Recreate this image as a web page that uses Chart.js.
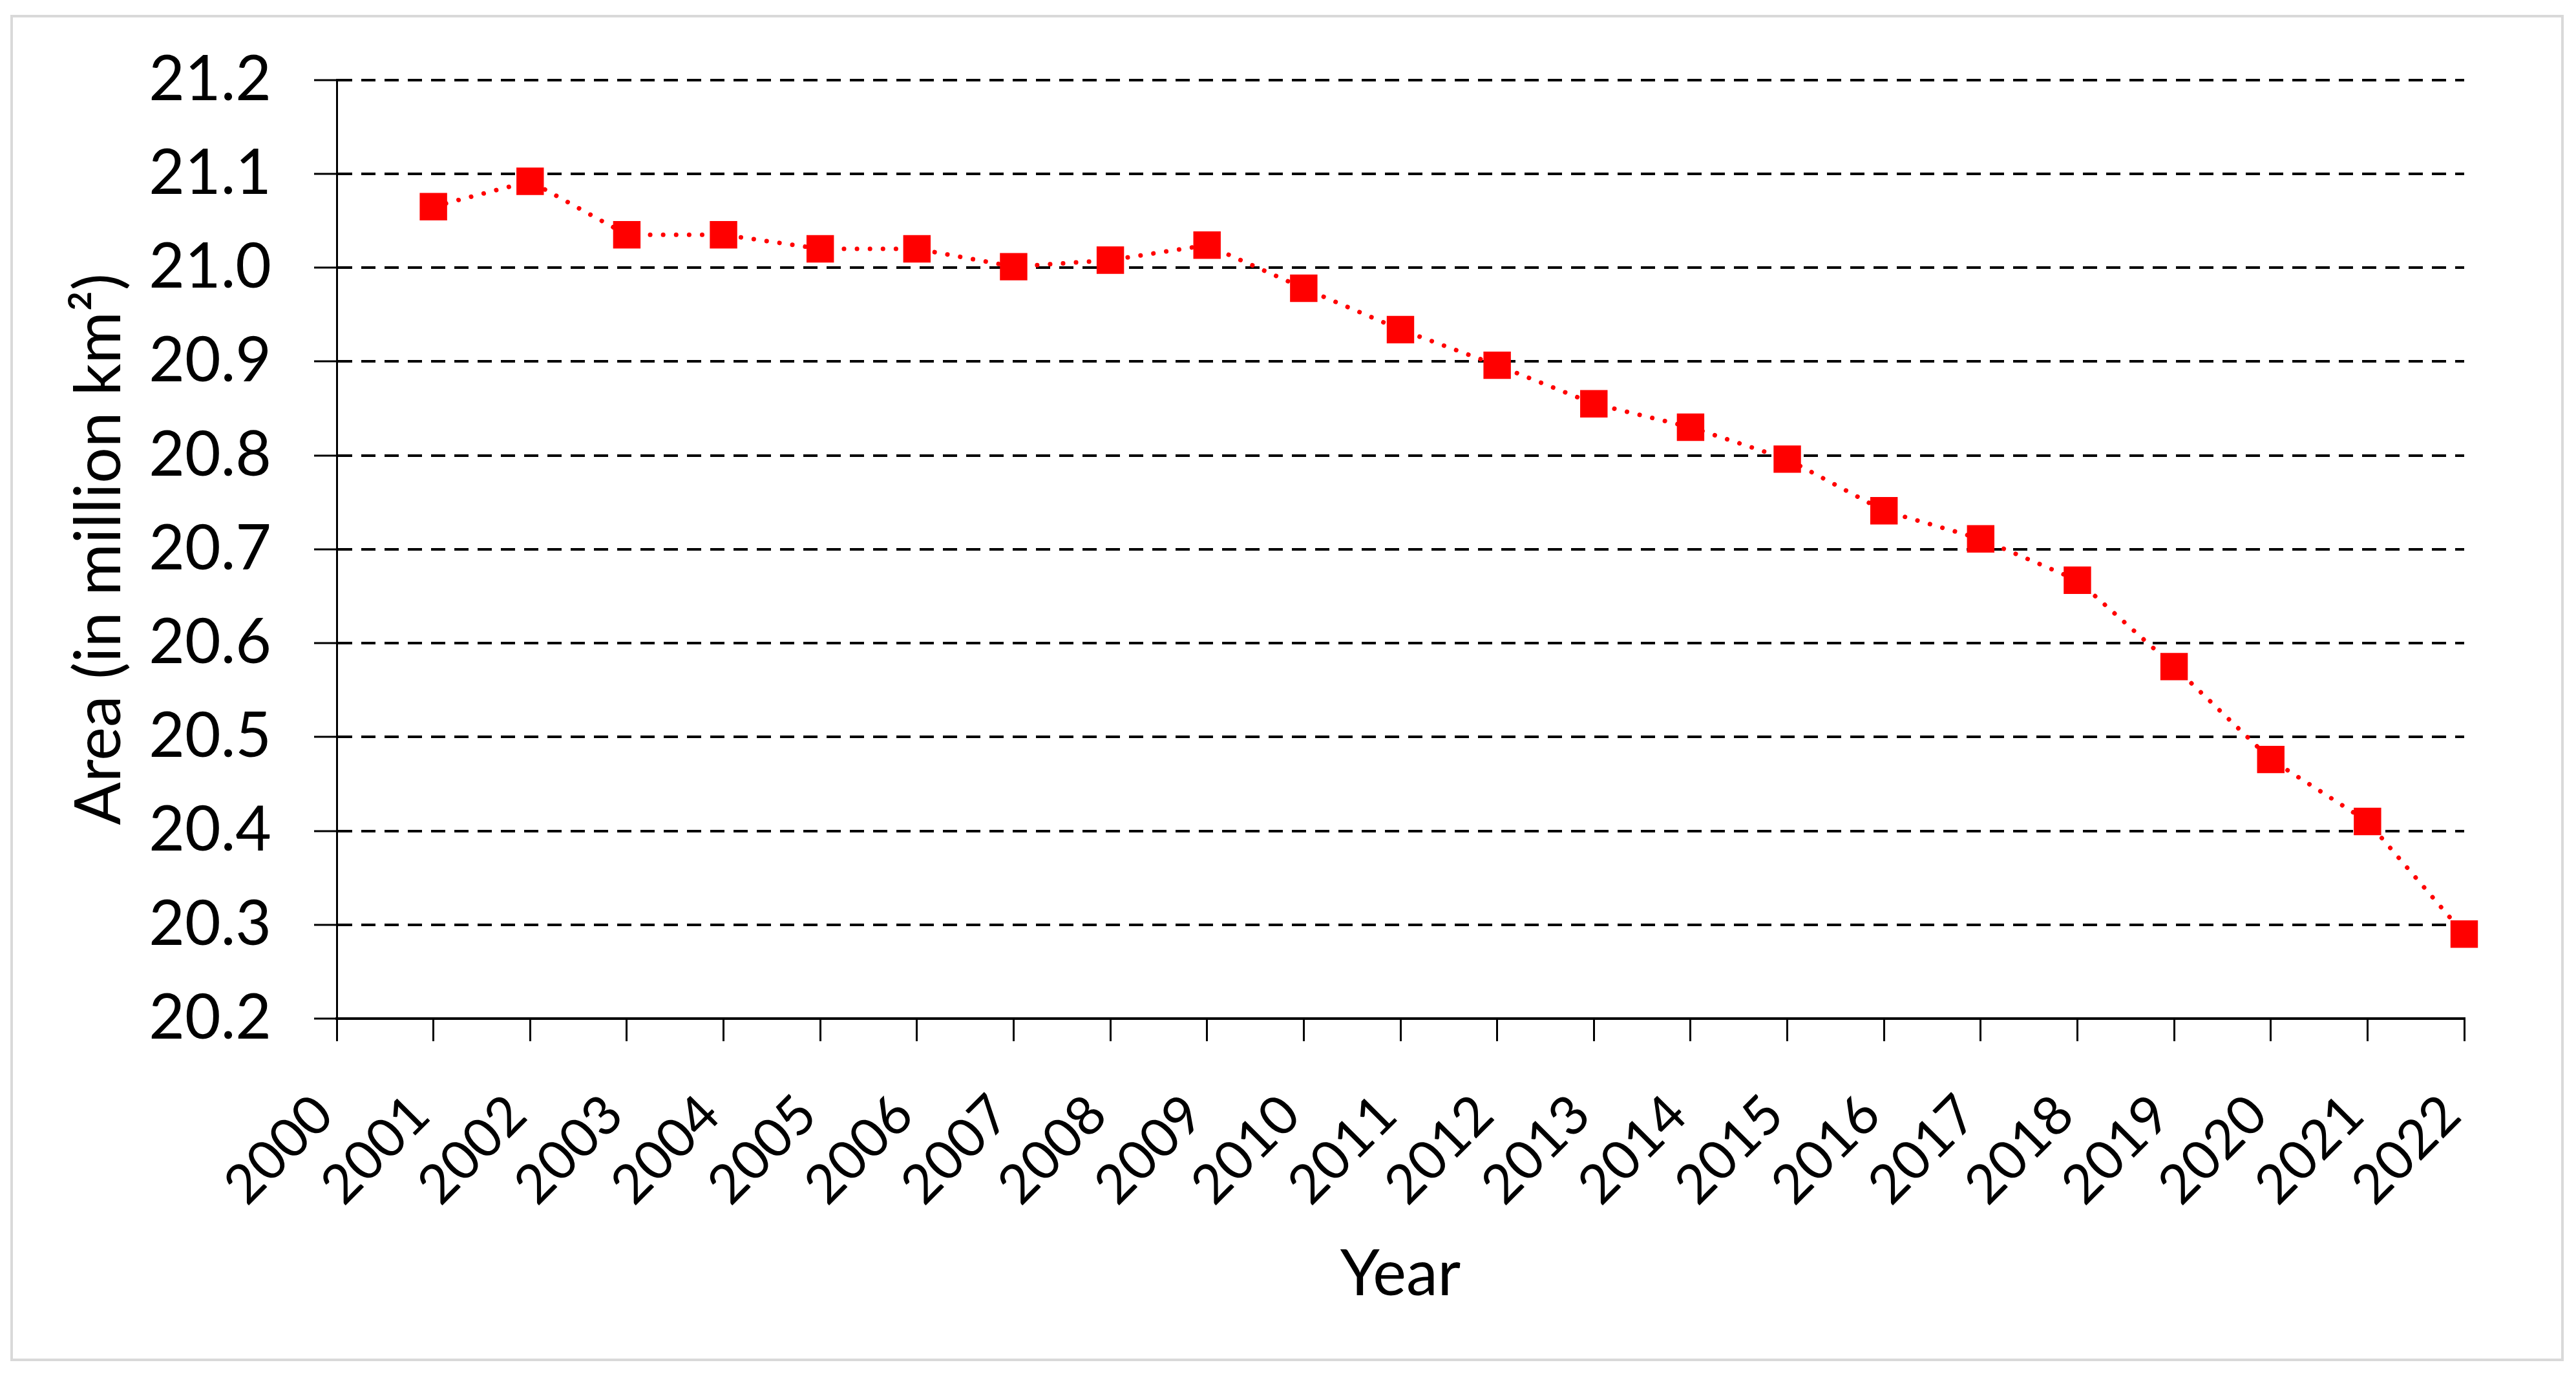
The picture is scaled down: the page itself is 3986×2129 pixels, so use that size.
<!DOCTYPE html>
<html lang="en">
<head>
    <meta charset="UTF-8">
    <title>Area by year</title>
    <script src="https://cdn.jsdelivr.net/npm/chart.js"></script>
    <style>
        body {
            margin: 0;
            background: #fff;
        }

        .chart-box {
            width: 3986px;
            height: 2129px;
        }
    </style>
</head>
<body>
    <div class="chart-box">
        <canvas id="areaChart" width="3986" height="2129"></canvas>
    </div>

<script>
    // values
    const years = ['2000', '2001', '2002', '2003', '2004', '2005', '2006', '2007', '2008', '2009', '2010',
        '2011', '2012', '2013', '2014', '2015', '2016', '2017', '2018', '2019', '2020', '2021', '2022'];
    const area = [null, 21.065, 21.092, 21.035, 21.035, 21.020, 21.020, 21.001, 21.008, 21.024, 20.978,
        20.934, 20.896, 20.855, 20.830, 20.796, 20.741, 20.711, 20.667, 20.575, 20.476, 20.410, 20.290];
    const yMin = 20.2;
    const yMax = 21.2;
    const yStep = 0.1;

    Chart.defaults.font.family = 'Lato';
    Chart.defaults.color = '#000';

    // white page and the light grey frame around the whole figure
    const frame = {
        id: 'frame',
        beforeDraw(chart) {
            const ctx = chart.ctx;
            ctx.save();
            ctx.fillStyle = '#fff';
            ctx.fillRect(0, 0, chart.width, chart.height);
            ctx.strokeStyle = '#d9d9d9';
            ctx.lineWidth = 4;
            ctx.strokeRect(18, 25, 3947, 2079);
            ctx.restore();
        }
    };

    const ctx = document.getElementById('areaChart').getContext('2d');
    new Chart(ctx, {
        type: 'line',
        data: {
            labels: years,
            datasets: [{
                label: 'Area',
                data: area,
                borderColor: '#ff0000',
                borderWidth: 7,
                borderDash: [0.1, 20],
                borderCapStyle: 'round',
                pointStyle: 'rect',
                pointRadius: 30,
                pointBorderWidth: 0,
                pointBackgroundColor: '#ff0000',
                tension: 0,
                spanGaps: false
            }]
        },
        options: {
            responsive: false,
            animation: false,
            layout: {
                padding: { left: 30, top: 119, right: 173, bottom: 39 }
            },
            plugins: {
                legend: { display: false },
                tooltip: { enabled: false }
            },
            scales: {
                x: {
                    offset: false,
                    afterFit: (scale) => { scale.height = 514; },
                    grid: {
                        drawOnChartArea: false,
                        drawTicks: true,
                        tickLength: 35,
                        color: '#000',
                        lineWidth: 3
                    },
                    border: { color: '#000', width: 4 },
                    ticks: {
                        autoSkip: false,
                        minRotation: 45,
                        maxRotation: 45,
                        padding: 70,
                        labelOffset: -20,
                        font: { size: 84, lineHeight: 1.0 }
                    },
                    title: {
                        display: true,
                        text: 'Year',
                        font: { size: 98 },
                        padding: { top: 0, bottom: 59 }
                    }
                },
                y: {
                    min: yMin,
                    max: yMax,
                    afterFit: (scale) => { scale.width = 491; },
                    grid: {
                        drawOnChartArea: true,
                        drawTicks: true,
                        tickLength: 35,
                        color: '#000',
                        lineWidth: 4,
                        tickWidth: 3,
                        tickBorderDash: []
                    },
                    border: { color: '#000', width: 3, dash: [22, 14] },
                    ticks: {
                        stepSize: yStep,
                        padding: 66,
                        font: { size: 96 },
                        callback: (v) => v.toFixed(1)
                    },
                    title: {
                        display: true,
                        text: 'Area (in million km²)',
                        font: { size: 98 },
                        padding: { top: 66, bottom: 0 }
                    }
                }
            }
        },
        plugins: [frame]
    });
</script>
</body>
</html>
